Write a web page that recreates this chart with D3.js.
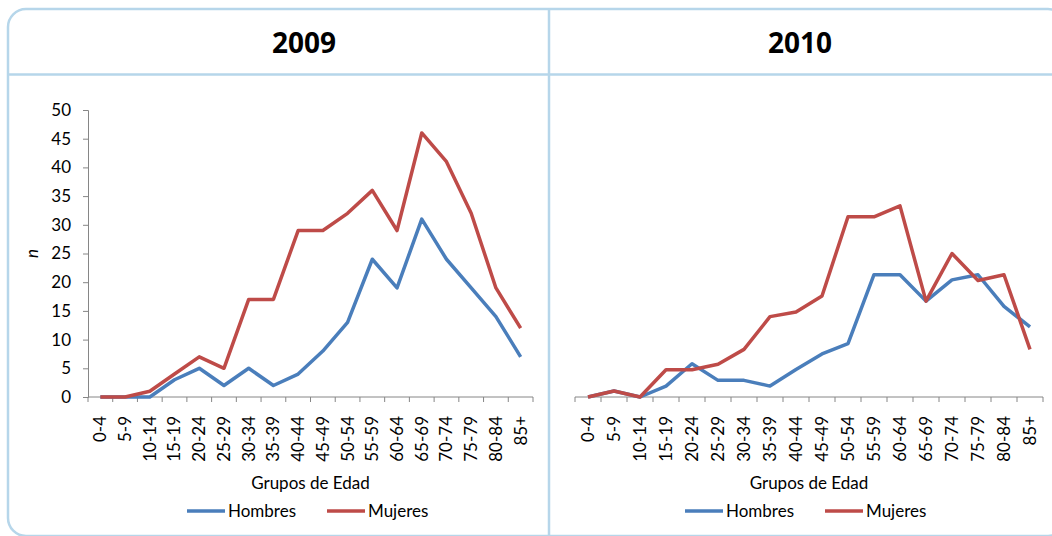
<!DOCTYPE html>
<html>
<head>
<meta charset="utf-8">
<script src="https://cdn.jsdelivr.net/npm/d3@7"></script>
<style>
  body { margin: 0; background: #fff; }
  svg { display: block; font-family: Lato, "Open Sans", sans-serif; }
</style>
</head>
<body>
<div id="chart"></div>
<script>
// ---- data ----
const ageGroups = ["0-4", "5-9", "10-14", "15-19", "20-24", "25-29", "30-34", "35-39", "40-44",
  "45-49", "50-54", "55-59", "60-64", "65-69", "70-74", "75-79", "80-84", "85+"];

const hombres2009 = [0, 0, 0, 3, 5, 2, 5, 2, 4, 8, 13, 24, 19, 31, 24, 19, 14, 7];
const mujeres2009 = [0, 0, 1, 4, 7, 5, 17, 17, 29, 29, 32, 36, 29, 46, 41, 32, 19, 12];

const hombres2010 = [0, 1.05, 0, 1.9, 5.8, 2.9, 2.9, 1.9, 4.8, 7.5, 9.3, 21.3, 21.3, 16.7, 20.4, 21.3, 15.8, 12.2];
const mujeres2010 = [0, 1.05, 0, 4.75, 4.75, 5.7, 8.3, 14.0, 14.8, 17.6, 31.4, 31.4, 33.3, 16.7, 25.0, 20.3, 21.3, 8.3];

const yTicks = [0, 5, 10, 15, 20, 25, 30, 35, 40, 45, 50];
const seriesNames = ["Hombres", "Mujeres"];
const colors = ["#4a7ebb", "#be4b48"];

const width = 1052, height = 536;
const borderColor = "#b6d6ea";
const axisColor = "#868686";
const fontSize = "17px";

const svg = d3.select("#chart").append("svg")
  .attr("width", width)
  .attr("height", height);

// ---- table frame ----
svg.append("rect")
  .attr("x", 8).attr("y", 9)
  .attr("width", 1058).attr("height", 527)
  .attr("rx", 18)
  .attr("fill", "none")
  .attr("stroke", borderColor)
  .attr("stroke-width", 2.5);

svg.append("line")
  .attr("x1", 549).attr("x2", 549).attr("y1", 9).attr("y2", 536)
  .attr("stroke", borderColor).attr("stroke-width", 2.5);

svg.append("line")
  .attr("x1", 8).attr("x2", 1052).attr("y1", 74.5).attr("y2", 74.5)
  .attr("stroke", borderColor).attr("stroke-width", 2.5);

// shared y scale
const y = d3.scaleLinear().domain([0, 50]).range([397, 110]);

const panels = [
  { title: "2009", titleX: 304, x0: 88, x1: 533, showY: true, data: [hombres2009, mujeres2009], legendX: 187 },
  { title: "2010", titleX: 800, x0: 575, x1: 1043, showY: false, data: [hombres2010, mujeres2010], legendX: 685 }
];

panels.forEach(p => {
  svg.append("text")
    .attr("x", p.titleX).attr("y", 53)
    .attr("text-anchor", "middle")
    .style("font-family", "'Open Sans', sans-serif")
    .style("font-weight", "700")
    .style("font-size", "28px")
    .text(p.title);

  const x = d3.scaleBand().domain(ageGroups).range([p.x0, p.x1]).padding(0);
  const g = svg.append("g");

  // y axis
  if (p.showY) {
    const yAxis = g.append("g")
      .attr("transform", `translate(${p.x0},0)`)
      .call(d3.axisLeft(y).tickValues(yTicks).tickSize(5).tickPadding(12));
    yAxis.select(".domain").attr("stroke", axisColor);
    yAxis.selectAll(".tick line").attr("stroke", axisColor);
    yAxis.selectAll(".tick text")
      .style("font-size", fontSize).style("font-family", "Lato, sans-serif").attr("fill", "#000");

    g.append("text")
      .attr("transform", `translate(${p.x0 - 50},${(y(0) + y(50)) / 2}) rotate(-90)`)
      .attr("text-anchor", "middle")
      .style("font-style", "italic")
      .style("font-size", fontSize)
      .text("n");
  }

  // x axis labels
  const xAxis = g.append("g")
    .attr("transform", `translate(0,${y(0)})`)
    .call(d3.axisBottom(x).tickSize(0).tickPadding(0));
  xAxis.select(".domain").remove();
  xAxis.selectAll(".tick text")
    .attr("transform", "rotate(-90)")
    .attr("x", -19).attr("y", 0).attr("dy", "0.35em")
    .attr("text-anchor", "end")
    .style("font-size", fontSize).style("font-family", "Lato, sans-serif").attr("fill", "#000");

  // x axis line and boundary ticks
  g.append("line")
    .attr("x1", p.x0).attr("x2", p.x1)
    .attr("y1", y(0)).attr("y2", y(0))
    .attr("stroke", axisColor);
  g.selectAll("line.bt")
    .data(d3.range(ageGroups.length + 1))
    .enter().append("line")
    .attr("class", "bt")
    .attr("x1", i => p.x0 + i * x.step()).attr("x2", i => p.x0 + i * x.step())
    .attr("y1", y(0)).attr("y2", y(0) + 5)
    .attr("stroke", axisColor);

  // lines
  const line = d3.line()
    .x((d, i) => x(ageGroups[i]) + x.bandwidth() / 2)
    .y(d => y(d));
  p.data.forEach((s, k) => {
    g.append("path")
      .datum(s)
      .attr("fill", "none")
      .attr("stroke", colors[k])
      .attr("stroke-width", 3.5)
      .attr("stroke-linejoin", "round")
      .attr("d", line);
  });

  // axis title
  g.append("text")
    .attr("x", (p.x0 + p.x1) / 2).attr("y", 489)
    .attr("text-anchor", "middle")
    .style("font-size", fontSize)
    .text("Grupos de Edad");

  // legend
  const lg = g.append("g").attr("transform", `translate(${p.legendX},511)`);
  const items = lg.selectAll("g").data(seriesNames).enter().append("g")
    .attr("transform", (d, i) => `translate(${i * 140},0)`);
  items.append("line")
    .attr("x1", 0).attr("x2", 38).attr("y1", 0).attr("y2", 0)
    .attr("stroke", (d, i) => colors[i]).attr("stroke-width", 3.5);
  items.append("text")
    .attr("x", 41).attr("y", 0).attr("dy", "0.35em")
    .style("font-size", fontSize)
    .text(d => d);
});
</script>
</body>
</html>
